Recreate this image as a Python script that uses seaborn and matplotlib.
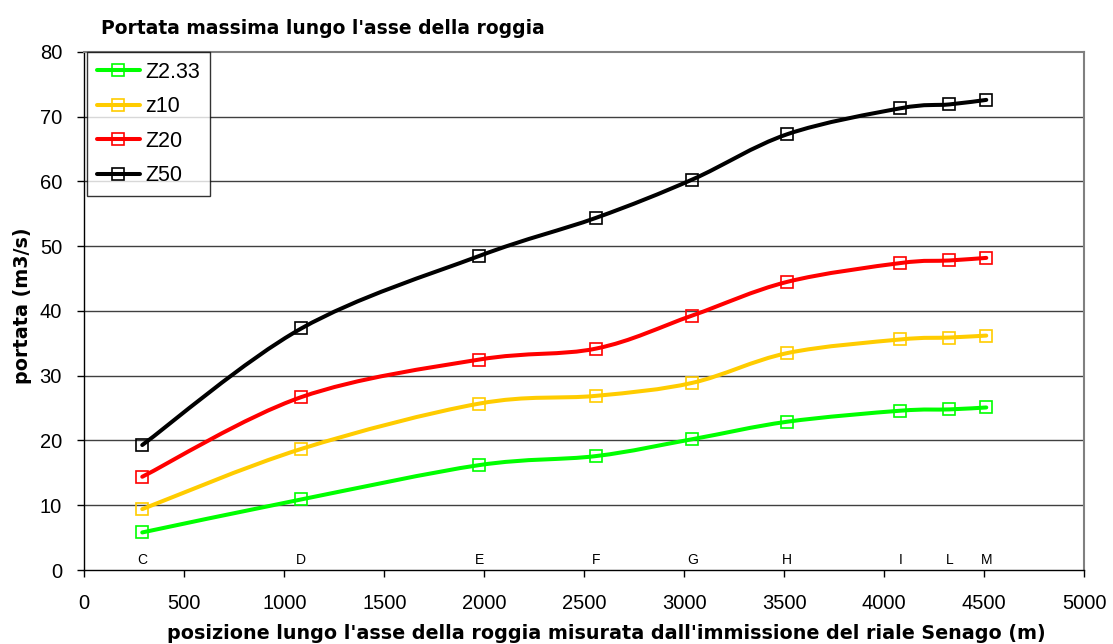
import numpy as np
import pandas as pd
import matplotlib
matplotlib.use("Agg")
import matplotlib.pyplot as plt
from matplotlib.path import Path
from matplotlib.patches import PathPatch
from matplotlib.lines import Line2D
import seaborn as sns

# ---- data ----
positions = [290, 1085, 1975, 2560, 3040, 3515, 4080, 4325, 4510]
sections = ["C", "D", "E", "F", "G", "H", "I", "L", "M"]
z233 = [5.8, 10.9, 16.2, 17.6, 20.2, 22.9, 24.6, 24.8, 25.1]
z10 = [9.4, 18.7, 25.7, 26.9, 28.9, 33.5, 35.6, 35.9, 36.2]
z20 = [14.4, 26.7, 32.5, 34.2, 39.3, 44.5, 47.4, 47.8, 48.2]
z50 = [19.3, 37.3, 48.5, 54.4, 60.3, 67.3, 71.3, 71.9, 72.6]
series_names = ["Z2.33", "z10", "Z20", "Z50"]
series_colors = ["#00FF00", "#FFCC00", "#FF0000", "#000000"]
x_ticks = [0, 500, 1000, 1500, 2000, 2500, 3000, 3500, 4000, 4500, 5000]
y_ticks = [0, 10, 20, 30, 40, 50, 60, 70, 80]

title = "Portata massima lungo l'asse della roggia"
xlabel = "posizione lungo l'asse della roggia misurata dall'immissione del riale Senago (m)"
ylabel = "portata (m3/s)"

sns.set_theme(style="white")
plt.rcParams["font.family"] = ["Liberation Sans", "DejaVu Sans"]
plt.rcParams["text.color"] = "black"
bold_family = ["DejaVu Sans"]

fig = plt.figure(figsize=(11.13, 6.44), dpi=100)
ax = fig.add_axes([0.0757, 0.1149, 0.8985, 0.8044])


def smooth_path(xs, ys):
    pts = np.column_stack([xs, ys]).astype(float)
    n = len(pts)
    verts = [pts[0]]
    codes = [Path.MOVETO]
    for i in range(n - 1):
        p0 = pts[i - 1] if i > 0 else pts[i]
        p1 = pts[i]
        p2 = pts[i + 1]
        p3 = pts[i + 2] if i + 2 < n else pts[i + 1]
        c1 = p1 + (p2 - p0) / 6.0
        c2 = p2 - (p3 - p1) / 6.0
        verts += [c1, c2, p2]
        codes += [Path.CURVE4] * 3
    return Path(verts, codes)


data = {"Z2.33": z233, "z10": z10, "Z20": z20, "Z50": z50}
rows = []
for name in series_names:
    for xv, yv in zip(positions, data[name]):
        rows.append({"x": xv, "y": yv, "serie": name})
df = pd.DataFrame(rows)

handles = []
for name, col in zip(series_names, series_colors):
    sub = df[df["serie"] == name]
    patch = PathPatch(smooth_path(sub["x"].values, sub["y"].values),
                      facecolor="none", edgecolor=col, lw=2.9,
                      capstyle="round", joinstyle="round", zorder=3)
    ax.add_patch(patch)
    sns.lineplot(data=sub, x="x", y="y", ax=ax, linestyle="none",
                 marker="s", markersize=8.3, markerfacecolor="none",
                 markeredgecolor=col, markeredgewidth=1.2, color=col,
                 zorder=4, legend=False)
    handles.append(Line2D([0], [0], color=col, lw=2.9, marker="s",
                          markersize=8.3, markerfacecolor="none",
                          markeredgecolor=col, markeredgewidth=1.2))

for xv, lab in zip(positions, sections):
    ax.text(xv, 1.55, lab, ha="center", va="center", fontsize=10, color="black")

ax.set_xlim(0, 5000)
ax.set_ylim(0, 80)
ax.set_xticks(x_ticks)
ax.set_yticks(y_ticks)
ax.set_xticklabels([str(v) for v in x_ticks])
ax.set_yticklabels([str(v) for v in y_ticks])
ax.set_xlabel("")
ax.set_ylabel("")
ax.tick_params(axis="both", direction="out", length=5, width=1, color="black",
               labelsize=14.5, labelcolor="black")
ax.tick_params(axis="x", pad=12)
ax.tick_params(axis="y", pad=11)
ax.xaxis.set_ticks_position("bottom")
ax.yaxis.set_ticks_position("left")

ax.grid(False)
for yv in y_ticks[1:-1]:
    ax.axhline(yv, color="#404040", lw=1, zorder=1)

for s in ["left", "bottom"]:
    ax.spines[s].set_color("black")
    ax.spines[s].set_linewidth(1)
for s in ["top", "right"]:
    ax.spines[s].set_color("#808080")
    ax.spines[s].set_linewidth(1.5)

leg = ax.legend(handles, series_names, loc="upper left",
                bbox_to_anchor=(0.003, 1.0), borderaxespad=0,
                fontsize=15.5, frameon=True, fancybox=False,
                edgecolor="black", handlelength=2.0, handletextpad=0.25,
                labelspacing=0.63, borderpad=0.45, labelcolor="black")
leg.get_frame().set_linewidth(1)
leg.set_zorder(10)

fig.text(0.0905, 0.955, title, fontsize=13.5, fontweight="bold",
         family=bold_family, color="black", ha="left", va="center")
fig.text(0.5445, 0.017, xlabel, fontsize=13.8, fontweight="bold",
         family=bold_family, color="black", ha="center", va="center")
fig.text(0.0198, 0.525, ylabel, fontsize=13.8, fontweight="bold",
         family=bold_family, color="black", ha="center", va="center",
         rotation=90)

fig.savefig("out.png", dpi=100, facecolor="white")
